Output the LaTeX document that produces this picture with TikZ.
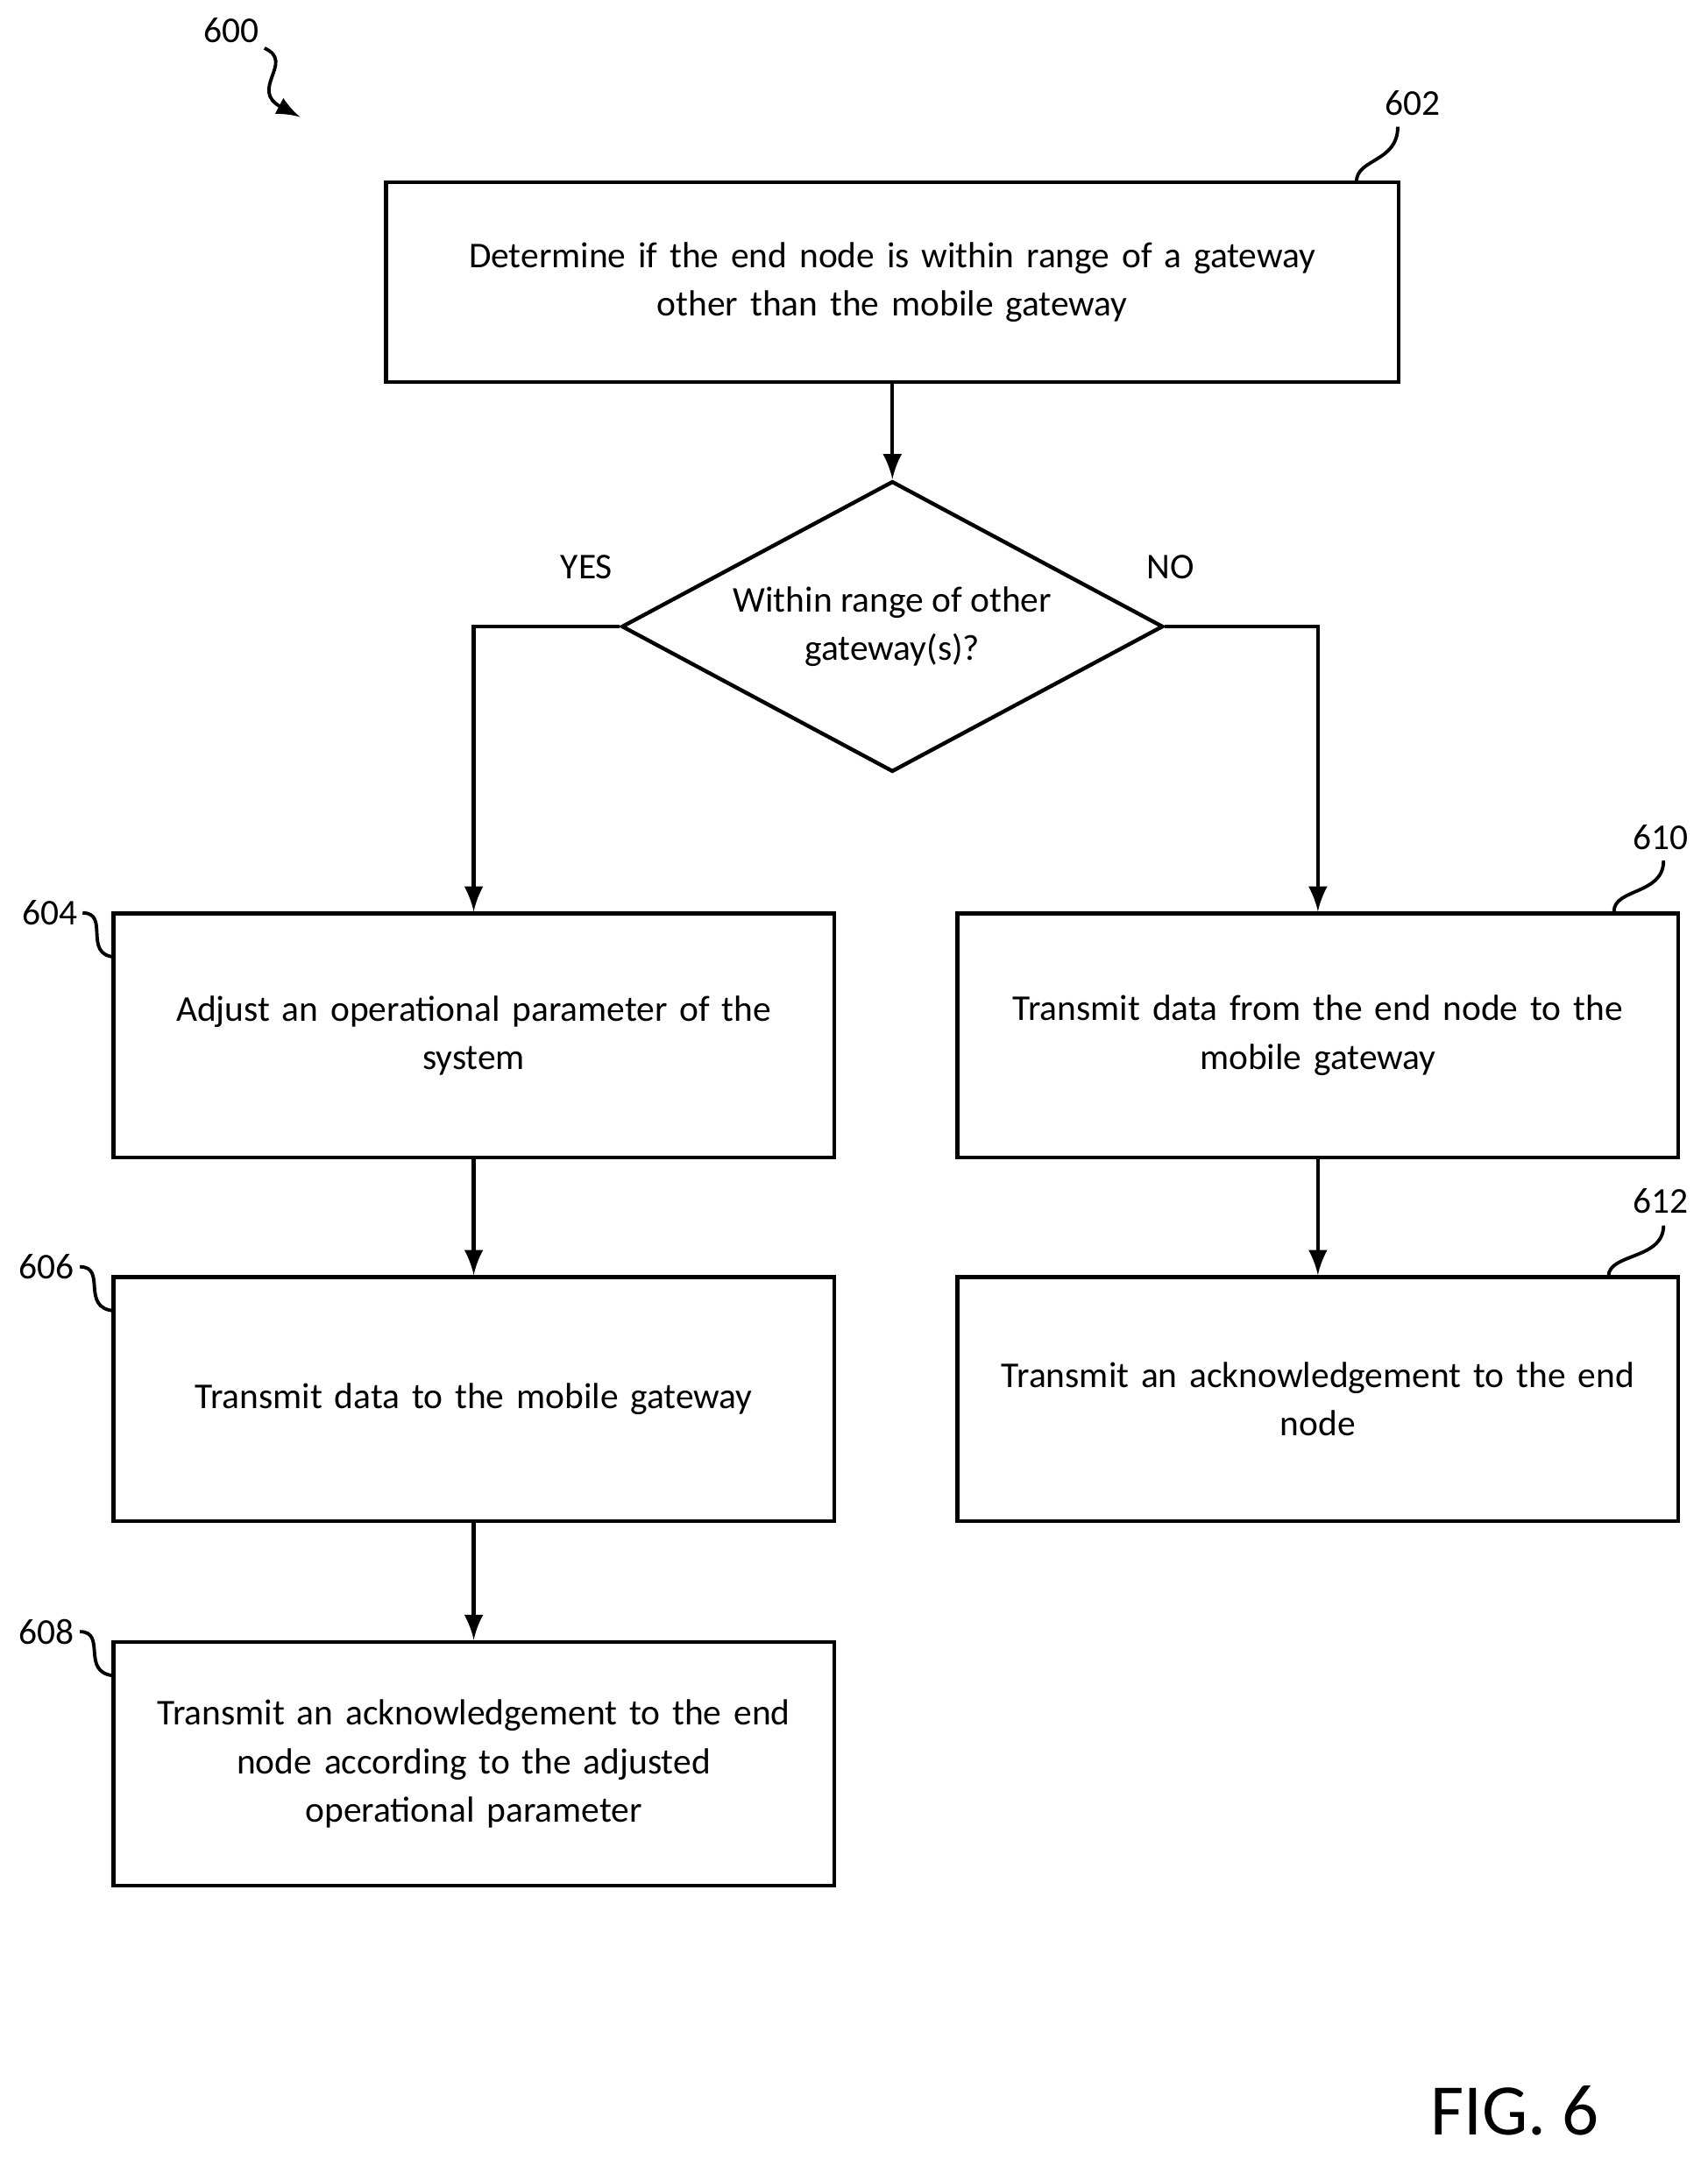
\documentclass[tikz,border=0pt]{standalone}
\usepackage{fontspec}
\setmainfont{Carlito}
\usetikzlibrary{shapes.geometric}
\usetikzlibrary{positioning}
\tikzset{box/.style = {draw, line width=0.8pt, minimum width=5.23cm, minimum height=1.77cm,
                        align=center, text width=5.1cm, inner sep=0pt},
         flow/.style = {draw, line width=0.8pt, -latex},
         ref/.style = {font=\fontsize{7.5}{9}\selectfont}}

\begin{document}
\begin{tikzpicture}[x=0.01cm, y=-0.01cm, font=\fontsize{7.5}{10}\selectfont]
      \useasboundingbox (0, 0) rectangle (1240, 1568);

      \node [box, minimum width=7.35cm, minimum height=1.45cm, text width=7cm] (determine) at (648, 205)
            {Determine if the end node is within range of a gateway\\ other than the mobile gateway};
      \node [draw, line width=0.8pt, diamond, aspect=1.86, minimum width=3.93cm, minimum height=2.11cm,
             inner sep=0pt, align=center] (range) at (648, 455) {Within range of other\\ gateway(s)?};
      \node [box] (adjust) at (344, 752) {Adjust an operational parameter of the\\ system};
      \node [box] (senddata) at (344, 1016) {Transmit data to the mobile gateway};
      \node [box] (ackadj) at (344, 1281) {Transmit an acknowledgement to the end\\ node according to the adjusted\\ operational parameter};
      \node [box] (sendmobile) at (957, 752) {Transmit data from the end node to the\\ mobile gateway};
      \node [box] (ackend) at (957, 1016) {Transmit an acknowledgement to the end\\ node};

      \node (yes) at (426, 412) {YES};
      \node (no) at (850, 412) {NO};

      \draw [flow] (determine) -- (range);
      \draw [flow] (range.west) -| (adjust.north);
      \draw [flow] (range.east) -| (sendmobile.north);
      \draw [flow] (adjust) -- (senddata);
      \draw [flow] (senddata) -- (ackadj);
      \draw [flow] (sendmobile) -- (ackend);

      % reference numerals
      \node [ref] (n600) at (168, 22) {600};
      \node [ref] (n602) at (1026, 75) {602};
      \node [ref] (n604) at (36, 663) {604};
      \node [ref] (n606) at (34, 920) {606};
      \node [ref] (n608) at (34, 1185) {608};
      \node [ref] (n610) at (1206, 608) {610};
      \node [ref] (n612) at (1206, 872) {612};

      \draw [line width=0.7pt, -latex] (192, 35) .. controls (215, 45) and (180, 65) .. (218, 85);
      \draw [line width=0.7pt] (985, 132) .. controls (985, 115) and (1015, 118) .. (1015, 92);
      \draw [line width=0.7pt] (60, 663) .. controls (80, 663) and (60, 693) .. (83, 695);
      \draw [line width=0.7pt] (58, 920) .. controls (78, 920) and (58, 950) .. (83, 952);
      \draw [line width=0.7pt] (58, 1185) .. controls (78, 1185) and (58, 1215) .. (83, 1217);
      \draw [line width=0.7pt] (1172, 662) .. controls (1172, 645) and (1208, 650) .. (1208, 625);
      \draw [line width=0.7pt] (1168, 927) .. controls (1168, 910) and (1208, 915) .. (1208, 890);

      \node [font=\fontsize{15}{18}\selectfont] (fig) at (1100, 1533) {FIG. 6};
\end{tikzpicture}
\end{document}
